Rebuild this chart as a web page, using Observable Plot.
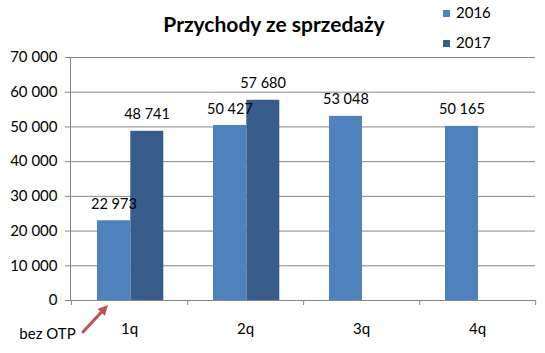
<!DOCTYPE html>
<html>
<head>
<meta charset="utf-8">
<script src="https://cdn.jsdelivr.net/npm/d3@7"></script>
<script src="https://cdn.jsdelivr.net/npm/@observablehq/plot@0.6"></script>
<style>
  body { margin: 0; background: #fff; }
  #wrap { position: relative; width: 545px; height: 353px; font-family: Lato, "Open Sans", sans-serif; color: #000; }
  #title { position: absolute; left: 124px; width: 300px; top: 12px; text-align: center; font-weight: bold; font-size: 21px; line-height: 24px; }
  #legend { position: absolute; left: 443px; top: 2px; font-size: 15px; }
  .li { position: absolute; left: 0; white-space: nowrap; height: 20px; line-height: 20px; }
  .sw { display: inline-block; width: 7px; height: 7px; margin-right: 6px; vertical-align: 1px; }
  #chart { position: absolute; left: 0; top: 0; }
</style>
</head>
<body>
<div id="wrap">
  <div id="chart"></div>
  <div id="title"></div>
  <div id="legend"></div>
</div>
<script>
const title = "Przychody ze sprzedaży";
const quarters = ["1q", "2q", "3q", "4q"];
const seriesNames = ["2016", "2017"];
const values2016 = [22973, 50427, 53048, 50165];
const values2017 = [48741, 57680, null, null];
const yTicks = [0, 10000, 20000, 30000, 40000, 50000, 60000, 70000];
const colors = ["#4F81BD", "#385D8A"];
const noteText = "bez OTP";
const noteQuarter = "1q";

const fmt = d3.formatLocale({decimal: ",", thousands: " ", grouping: [3], currency: ["", ""]}).format(",d");

const rows2016 = quarters.map((q, i) => ({q, v: values2016[i]})).filter(d => d.v != null);
const rows2017 = quarters.map((q, i) => ({q, v: values2017[i]})).filter(d => d.v != null);

document.getElementById("title").textContent = title;
const legend = document.getElementById("legend");
seriesNames.forEach((s, i) => {
  const el = document.createElement("div");
  el.className = "li";
  el.style.top = (i * 30) + "px";
  el.innerHTML = `<span class="sw" style="background:${colors[i]}"></span>${s}`;
  legend.appendChild(el);
});

const grey = "#868686";
const half = 116.25 / 2;

function noteArrow(index, scales) {
  const xc = scales.x(noteQuarter) + scales.x.bandwidth() / 2;
  const y0 = scales.y(0);
  const g = d3.create("svg:g");
  const x1 = xc - 46, y1 = y0 + 32, x2 = xc - 21, y2 = y0 + 5;
  const ang = Math.atan2(y2 - y1, x2 - x1);
  const hl = 10, hw = 5;
  const bx = x2 - hl * Math.cos(ang), by = y2 - hl * Math.sin(ang);
  g.append("line").attr("x1", x1).attr("y1", y1).attr("x2", bx).attr("y2", by)
    .attr("stroke", "#C0504D").attr("stroke-width", 3).attr("stroke-linecap", "round");
  g.append("path")
    .attr("d", `M${x2},${y2}L${bx - hw * Math.sin(ang)},${by + hw * Math.cos(ang)}L${bx + hw * Math.sin(ang)},${by - hw * Math.cos(ang)}Z`)
    .attr("fill", "#C0504D");
  return g.node();
}

const chart = Plot.plot({
  width: 545,
  height: 353,
  marginTop: 57,
  marginBottom: 53,
  marginLeft: 70,
  marginRight: 10,
  style: {fontFamily: "Lato, 'Open Sans', sans-serif", color: "#000", background: "transparent"},
  x: {domain: quarters, padding: 0},
  y: {domain: [0, 70000]},
  marks: [
    Plot.ruleY(yTicks, {stroke: grey, strokeOpacity: 1}),
    Plot.frame({anchor: "left", stroke: grey}),
    Plot.barY(rows2016, {x: "q", y: "v", fill: colors[0], insetLeft: 26, insetRight: 57}),
    Plot.barY(rows2017, {x: "q", y: "v", fill: colors[1], insetLeft: 59.3, insetRight: 23.7}),
    Plot.text(rows2016, {x: "q", y: "v", text: d => fmt(d.v), dx: -15.6, dy: -16.5, fontSize: 14.5, fill: "#000"}),
    Plot.text(rows2017, {x: "q", y: "v", text: d => fmt(d.v), dx: 17.5, dy: -16.5, fontSize: 14.5, fill: "#000"}),
    Plot.ruleX(quarters, {x: d => d, y1: 0, y2: 0, insetBottom: -5, dx: half, stroke: grey}),
    Plot.ruleX([quarters[0]], {x: d => d, y1: 0, y2: 0, insetBottom: -5, dx: -half, stroke: grey}),
    Plot.axisY({ticks: yTicks, tickFormat: fmt, tickSize: 5, tickPadding: 8, stroke: grey, fontSize: 15, label: null}),
    Plot.axisX({tickSize: 0, tickPadding: 23, fontSize: 15, label: null}),
    Plot.text([noteQuarter], {x: d => d, y: () => 0, text: () => noteText, dx: -82, dy: 34, fontSize: 15, fill: "#000"}),
    noteArrow
  ]
});
document.getElementById("chart").appendChild(chart);
</script>
</body>
</html>
